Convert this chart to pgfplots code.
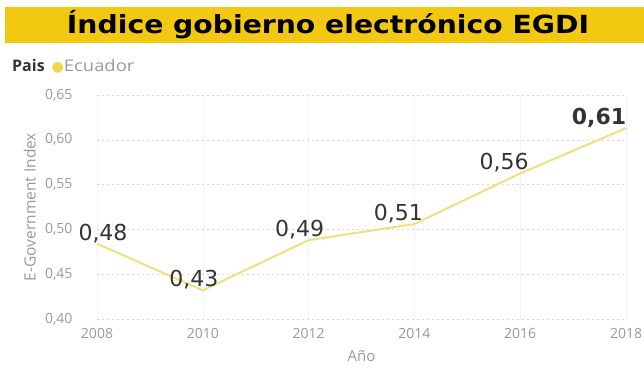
\documentclass[border=0pt]{standalone}
\usepackage{pgfplots}
\pgfplotsset{compat=1.18}
\usepackage{fontspec}
\setmainfont{Open Sans}
\newfontfamily\labfont{DejaVu Sans}
\newfontfamily\titlefont{DejaVu Sans}
\definecolor{gold}{HTML}{F2C811}
\definecolor{linecol}{HTML}{EFE07C}
\definecolor{dotcol}{HTML}{F2D54A}
\definecolor{tickgray}{HTML}{999999}
\definecolor{labgray}{HTML}{333333}
\begin{document}
\begin{tikzpicture}
\useasboundingbox (0pt,0pt) rectangle (644pt,367pt);
\fill[gold] (5pt,324pt) rectangle (644pt,360pt);
\node[inner sep=0, text=black] at (328pt,342pt) {\scalebox{1.13}[1]{\titlefont\bfseries\fontsize{25}{29}\selectfont Índice gobierno electrónico EGDI}};
\node[anchor=west, font=\fontsize{16}{18}\selectfont, inner sep=0] at (12pt,301pt) {\textcolor{labgray}{\textbf{Pais}}\hspace{7pt}\textcolor{dotcol}{\labfont\fontsize{14}{15}\selectfont●}\textcolor{tickgray}{\scalebox{1.15}[1]{Ecuador}}};
\begin{axis}[
  at={(97pt,48pt)}, anchor=south west,
  scale only axis, width=529pt, height=224pt,
  xmin=2008, xmax=2018, ymin=0.40, ymax=0.65,
  xtick={2008,2010,...,2018}, ytick={0.40,0.45,...,0.66},
  axis line style={draw=none}, tick style={draw=none},
  x tick label style={/pgf/number format/1000 sep={}, text=tickgray, font=\fontsize{14}{16}\selectfont, yshift=-6pt},
  y tick label style={/pgf/number format/.cd, fixed, fixed zerofill, precision=2, use comma, /tikz/.cd, text=tickgray, font=\fontsize{14}{16}\selectfont, xshift=-21pt},
  /pgf/number format/assume math mode=true,
  ymajorgrids, xmajorgrids,
  y grid style={draw=black!15, dash pattern=on 2pt off 3pt},
  x grid style={draw=black!5},
  ylabel={E-Government Index},
  every axis y label/.style={at={(axis description cs:-0.127,0.5)}, rotate=90, anchor=center, text=tickgray, font=\fontsize{15.5}{17}\selectfont},
  xlabel={Año},
  every axis x label/.style={at={(axis description cs:0.5,0)}, anchor=center, yshift=-37pt, text=tickgray, font=\fontsize{15}{17}\selectfont},
  clip=false,
]
\addplot[linecol, line width=2pt,
  point meta=explicit symbolic,
  visualization depends on={\thisrow{dx} \as \dx},
  nodes near coords={\pgfplotspointmeta},
  every node near coord/.append style={anchor=south, inner sep=0pt, yshift=0pt, xshift=\dx, text=labgray, font=\labfont\fontsize{22}{24}\selectfont}]
  table[x=x, y=y, meta=lab] {
x y lab dx
2008 0.484 0,48 6
2010 0.432 0,43 -9
2012 0.488 0,49 -9
2014 0.506 0,51 -16
2016 0.5625 0,56 -16
2018 0.613 \textbf{0,61} -27
};
\end{axis}
\end{tikzpicture}
\end{document}
